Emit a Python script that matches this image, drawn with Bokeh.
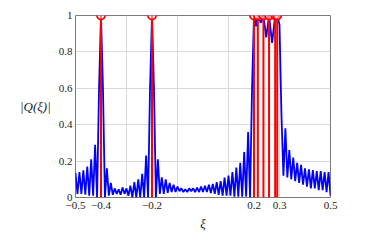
from bokeh.plotting import figure
from bokeh.models import Range1d, FixedTicker, ColumnDataSource, CustomJSTickFormatter
from bokeh.embed import file_html
from bokeh.resources import INLINE

grid_step = 1 / 130
q_left = [  # xi = -0.5 ... 0.2
    0.135, 0.02, 0.14, 0.02, 0.15, 0.015, 0.17, 0.01, 0.21, 0.01,
    0.29, 0.0, 0.6, 1.0, 0.6, 0.0, 0.16, 0.01, 0.08, 0.015,
    0.05, 0.02, 0.045, 0.015, 0.055, 0.02, 0.05, 0.01, 0.065, 0.0,
    0.085, 0.0, 0.10, 0.0, 0.13, 0.0, 0.23, 0.0, 0.6, 1.0,
    0.6, 0.0, 0.21, 0.02, 0.11, 0.02, 0.10, 0.025, 0.08, 0.03,
    0.07, 0.03, 0.06, 0.035, 0.05, 0.03, 0.045, 0.03, 0.05, 0.035,
    0.05, 0.03, 0.055, 0.03, 0.06, 0.03, 0.065, 0.03, 0.07, 0.025,
    0.075, 0.02, 0.085, 0.015, 0.09, 0.01, 0.11, 0.01, 0.12, 0.01,
    0.14, 0.005, 0.165, 0.005, 0.19, 0.005, 0.25, 0.005, 0.36, 0.0,
    0.6, 1.0,
]
cluster_xi = [0.208, 0.215, 0.227, 0.237, 0.248, 0.259, 0.271, 0.283, 0.291, 0.300]
cluster_q = [0.94, 1.0, 0.96, 1.0, 0.88, 1.0, 0.85, 1.0, 1.0, 0.95]
q_right = [  # xi = 0.3077 ... 0.5
    0.45, 0.12, 0.38, 0.11, 0.26, 0.10, 0.22, 0.09, 0.19, 0.08,
    0.18, 0.07, 0.16, 0.06, 0.155, 0.05, 0.15, 0.05, 0.145, 0.04,
    0.145, 0.04, 0.14, 0.03, 0.14, 0.01,
]

# spikes (frequencies) and amplitudes
spike_xi = [-0.4, -0.2, 0.2, 0.215, 0.237, 0.259, 0.283, 0.291]
spike_amp = [1, 1, 1, 1, 1, 1, 1, 1]

x_ticks = [-0.5, -0.4, -0.2, 0.2, 0.3, 0.5]
y_ticks = [0, 0.2, 0.4, 0.6, 0.8, 1]
x_grid = [-0.3, -0.1, 0.1, 0.3]
y_grid = [0.2, 0.4, 0.6, 0.8]

xi = [-0.5 + k * grid_step for k in range(len(q_left))] + cluster_xi + \
     [-0.5 + (105 + k) * grid_step for k in range(len(q_right))]
q = q_left + cluster_q + q_right

TICK_FONT = "Liberation Serif"
LABEL_FONT = "Liberation Serif"

p = figure(width=358, height=233, x_range=Range1d(-0.5, 0.5), y_range=Range1d(0, 1),
           output_backend="svg", toolbar_location=None,
           min_border_left=75, min_border_right=28, min_border_top=15, min_border_bottom=30)
p.background_fill_color = "white"
p.border_fill_color = "white"
p.outline_line_color = "#7a7a7a"
p.outline_line_width = 1

fmt = CustomJSTickFormatter(code="return (tick < 0 ? '\u2212' : '') + Math.abs(tick).toString();")
for ax, ticks in ((p.xaxis, x_ticks), (p.yaxis, y_ticks)):
    ax.ticker = FixedTicker(ticks=ticks)
    ax.formatter = fmt
    ax.axis_line_color = None
    ax.major_tick_line_color = None
    ax.minor_tick_line_color = None
    ax.major_tick_in = 0
    ax.major_tick_out = 0
    ax.minor_tick_in = 0
    ax.minor_tick_out = 0
    ax.major_label_text_font = TICK_FONT
    ax.major_label_text_font_size = "11px"
    ax.major_label_text_color = "#222222"
    ax.axis_label_text_font = LABEL_FONT
    ax.axis_label_text_font_style = "italic"
    ax.axis_label_text_font_size = "13px"
    ax.axis_label_text_color = "#222222"

p.xaxis.major_label_standoff = 4
p.yaxis.major_label_standoff = 3
p.xaxis.axis_label = "ξ"
p.xaxis.axis_label_standoff = 4
p.yaxis.axis_label = "|Q(ξ)|"
p.yaxis.axis_label_orientation = "horizontal"
p.yaxis.axis_label_standoff = 5

p.xgrid.ticker = FixedTicker(ticks=x_grid)
p.ygrid.ticker = FixedTicker(ticks=y_grid)
p.grid.grid_line_color = "#d9d9d9"
p.grid.grid_line_width = 1

p.line(xi, q, line_color="#0000ff", line_width=1.8)

src = ColumnDataSource(dict(xi=spike_xi, amp=spike_amp))
p.segment(x0="xi", y0=0, x1="xi", y1="amp", source=src, line_color="#ff0000", line_width=2)
p.scatter("xi", "amp", source=src, marker="circle", size=8, line_color="#ff0000",
          line_width=1.8, fill_color="white", fill_alpha=0.5)

open("out.html", "w").write(file_html(p, INLINE))
